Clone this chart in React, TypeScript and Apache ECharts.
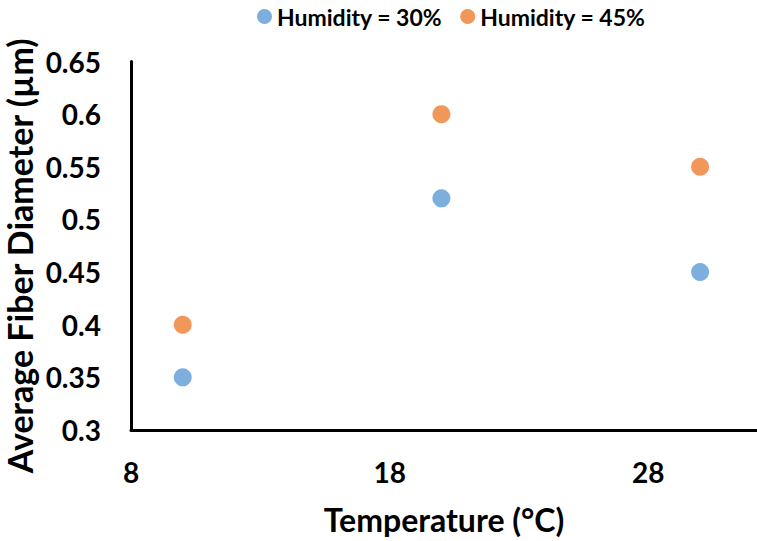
import React, { useEffect, useRef } from "react";
import * as echarts from "echarts";

const temperature = [10, 20, 30];
const humidity30 = [0.35, 0.52, 0.45];
const humidity45 = [0.4, 0.6, 0.55];
const seriesNames = ["Humidity = 30%", "Humidity = 45%"];
const xTickValues = [8, 18, 28];

const FONT = "Lato";

export default function App() {
  const ref = useRef<HTMLDivElement>(null);
  useEffect(() => {
    if (!ref.current) return;
    const chart = echarts.init(ref.current, undefined, { renderer: "svg" });
    chart.setOption({
      animation: false,
      textStyle: { fontFamily: FONT },
      legend: {
        top: 0,
        left: 252,
        itemWidth: 15,
        itemHeight: 15,
        itemGap: 18,
        icon: "circle",
        textStyle: { fontFamily: FONT, fontWeight: "bold", fontSize: 23, color: "#000" },
        data: seriesNames,
      },
      grid: {
        left: 131,
        right: 0,
        top: 61.5,
        bottom: 111,
        containLabel: false,
        outerBoundsMode: "none",
      },
      xAxis: {
        type: "value",
        min: 8,
        max: 32.2,
        name: "Temperature (°C)",
        nameLocation: "middle",
        nameGap: 73,
        nameMoveOverlap: false,
        nameTextStyle: { fontFamily: FONT, fontWeight: "bold", fontSize: 32, color: "#000" },
        axisLine: { show: true, onZero: false, lineStyle: { color: "#000", width: 3 } },
        axisTick: { show: false },
        splitLine: { show: false },
        axisLabel: {
          customValues: xTickValues,
          margin: 28,
          fontFamily: FONT,
          fontWeight: "bold",
          fontSize: 28,
          color: "#000",
        },
      },
      yAxis: {
        type: "value",
        min: 0.3,
        max: 0.65,
        interval: 0.05,
        name: "Average Fiber Diameter (µm)",
        nameLocation: "middle",
        nameGap: 95,
        nameRotate: 90,
        nameMoveOverlap: false,
        nameTextStyle: {
          fontFamily: FONT,
          fontWeight: "bold",
          fontSize: 34,
          color: "#000",
          padding: [0, 20, 0, 0],
        },
        axisLine: { show: true, lineStyle: { color: "#000", width: 3 } },
        axisTick: { show: false },
        splitLine: { show: false },
        axisLabel: {
          margin: 30,
          fontFamily: FONT,
          fontWeight: "bold",
          fontSize: 28,
          color: "#000",
          formatter: (v: number) => String(parseFloat(v.toFixed(2))),
        },
      },
      series: [
        {
          name: seriesNames[0],
          type: "scatter",
          symbolSize: 18,
          itemStyle: { color: "#5B9BD5" },
          data: temperature.map((t, i) => [t, humidity30[i]]),
        },
        {
          name: seriesNames[1],
          type: "scatter",
          symbolSize: 18,
          itemStyle: { color: "#ED7D31" },
          data: temperature.map((t, i) => [t, humidity45[i]]),
        },
      ],
    });
    return () => chart.dispose();
  }, []);
  return <div ref={ref} style={{ width: 757, height: 541, position: "absolute", left: 0, top: 0 }} />;
}
